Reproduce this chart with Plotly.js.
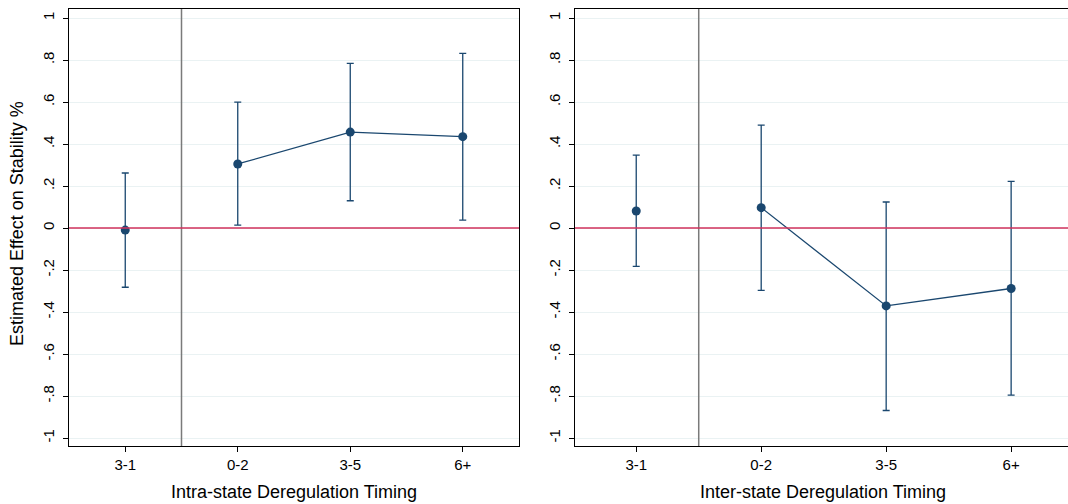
<!DOCTYPE html>
<html>
<head>
<meta charset="utf-8">
<script src="https://cdn.plot.ly/plotly-3.0.1.min.js"></script>
<style>html,body{margin:0;padding:0;background:#fff;}#chart{width:1068px;height:504px;}</style>
</head>
<body>
<div id="chart"></div>
<script>
// ---- data ----
const categories = ["3-1", "0-2", "3-5", "6+"];
const intraEst   = [-0.01, 0.305, 0.457, 0.435];
const intraUpper = [0.262, 0.600, 0.784, 0.832];
const intraLower = [-0.282, 0.014, 0.130, 0.038];
const interEst   = [0.081, 0.097, -0.371, -0.288];
const interUpper = [0.347, 0.490, 0.124, 0.222];
const interLower = [-0.183, -0.297, -0.869, -0.796];
const yTickVals  = [-1, -0.8, -0.6, -0.4, -0.2, 0, 0.2, 0.4, 0.6, 0.8, 1];
const yTickText  = ["-1", "-.8", "-.6", "-.4", "-.2", "0", ".2", ".4", ".6", ".8", "1"];
const xTitles    = ["Intra-state Deregulation Timing", "Inter-state Deregulation Timing"];
const yTitle     = "Estimated Effect on Stability %";

const navy = "#1a476f";
const W = 1068, H = 504;
const font = "Liberation Sans, Arial, sans-serif";

function mkTraces(est, up, lo, xa, ya) {
  const xs = categories.map((c, i) => i);
  const plus = est.map((v, i) => up[i] - v);
  const minus = est.map((v, i) => v - lo[i]);
  const errStyle = (idx) => ({
    type: "data", symmetric: false,
    array: idx.map(i => plus[i]), arrayminus: idx.map(i => minus[i]),
    color: navy, thickness: 1.3, width: 3.5
  });
  const pre = [0], post = [1, 2, 3];
  return [
    { x: pre.map(i => xs[i]), y: pre.map(i => est[i]), xaxis: xa, yaxis: ya,
      type: "scatter", mode: "markers", marker: { color: navy, size: 9 },
      error_y: errStyle(pre), showlegend: false, hoverinfo: "skip" },
    { x: post.map(i => xs[i]), y: post.map(i => est[i]), xaxis: xa, yaxis: ya,
      type: "scatter", mode: "lines+markers", marker: { color: navy, size: 9 },
      line: { color: navy, width: 1.3 },
      error_y: errStyle(post), showlegend: false, hoverinfo: "skip" }
  ];
}

const data = [
  ...mkTraces(intraEst, intraUpper, intraLower, "x", "y"),
  ...mkTraces(interEst, interUpper, interLower, "x2", "y2")
];

const yTop = 1 - 9 / H, yBot = 1 - 446 / H;
const yRange = [-1.038, 1.043];

function yaxisCfg(anchor, mirror) {
  return {
    domain: [yBot, yTop], range: yRange, anchor: anchor,
    tickvals: yTickVals, ticktext: yTickText, tickangle: -90,
    ticks: "outside", ticklen: 5, tickcolor: "#000", tickwidth: 1,
    ticklabelstandoff: 3,
    tickfont: { family: font, size: 15, color: "#000" },
    showgrid: true, gridcolor: "#eaf2f3", gridwidth: 1,
    zeroline: false, showline: true, linecolor: "#000", linewidth: 1.2,
    mirror: mirror, automargin: false, fixedrange: true
  };
}
function xaxisCfg(anchor, d0, d1, range) {
  return {
    domain: [d0, d1], range: range, anchor: anchor,
    tickvals: categories.map((c, i) => i), ticktext: categories,
    ticks: "outside", ticklen: 5, tickcolor: "#000", tickwidth: 1,
    tickfont: { family: font, size: 15, color: "#000" },
    showgrid: false, zeroline: false, showline: true, linecolor: "#000", linewidth: 1.2,
    mirror: true, automargin: false, fixedrange: true
  };
}

const layout = {
  width: W, height: H,
  margin: { l: 0, r: 0, t: 0, b: 0 },
  paper_bgcolor: "#fff", plot_bgcolor: "#fff",
  showlegend: false,
  xaxis: xaxisCfg("y", 69 / W, 519 / W, [-0.5, 3.5]),
  yaxis: yaxisCfg("x", true),
  xaxis2: xaxisCfg("y2", 575 / W, 1, [-0.49, 3.455]),
  yaxis2: yaxisCfg("x2", false),
  shapes: [
    { type: "line", xref: "x", yref: "y domain", x0: 0.5, x1: 0.5, y0: 0, y1: 1, line: { color: "#7a7a7a", width: 1.5 }, layer: "above" },
    { type: "line", xref: "x2", yref: "y2 domain", x0: 0.5, x1: 0.5, y0: 0, y1: 1, line: { color: "#7a7a7a", width: 1.5 }, layer: "above" },
    { type: "line", xref: "x domain", yref: "y", x0: 0, x1: 1, y0: 0, y1: 0, line: { color: "#d0325c", width: 1.6 }, layer: "above" },
    { type: "line", xref: "x2 domain", yref: "y2", x0: 0, x1: 1, y0: 0, y1: 0, line: { color: "#d0325c", width: 1.6 }, layer: "above" }
  ],
  annotations: [
    { text: xTitles[0], xref: "paper", yref: "paper", x: 294 / W, y: 1 - 492 / H, showarrow: false,
      font: { family: font, size: 18, color: "#000" }, xanchor: "center", yanchor: "middle" },
    { text: xTitles[1], xref: "paper", yref: "paper", x: 823 / W, y: 1 - 492 / H, showarrow: false,
      font: { family: font, size: 18, color: "#000" }, xanchor: "center", yanchor: "middle" },
    { text: yTitle, xref: "paper", yref: "paper", x: 17 / W, y: 1 - 224 / H, showarrow: false, textangle: -90,
      font: { family: font, size: 18, color: "#000" }, xanchor: "center", yanchor: "middle" }
  ]
};

Plotly.newPlot("chart", data, layout, { staticPlot: true, displayModeBar: false });
</script>
</body>
</html>
